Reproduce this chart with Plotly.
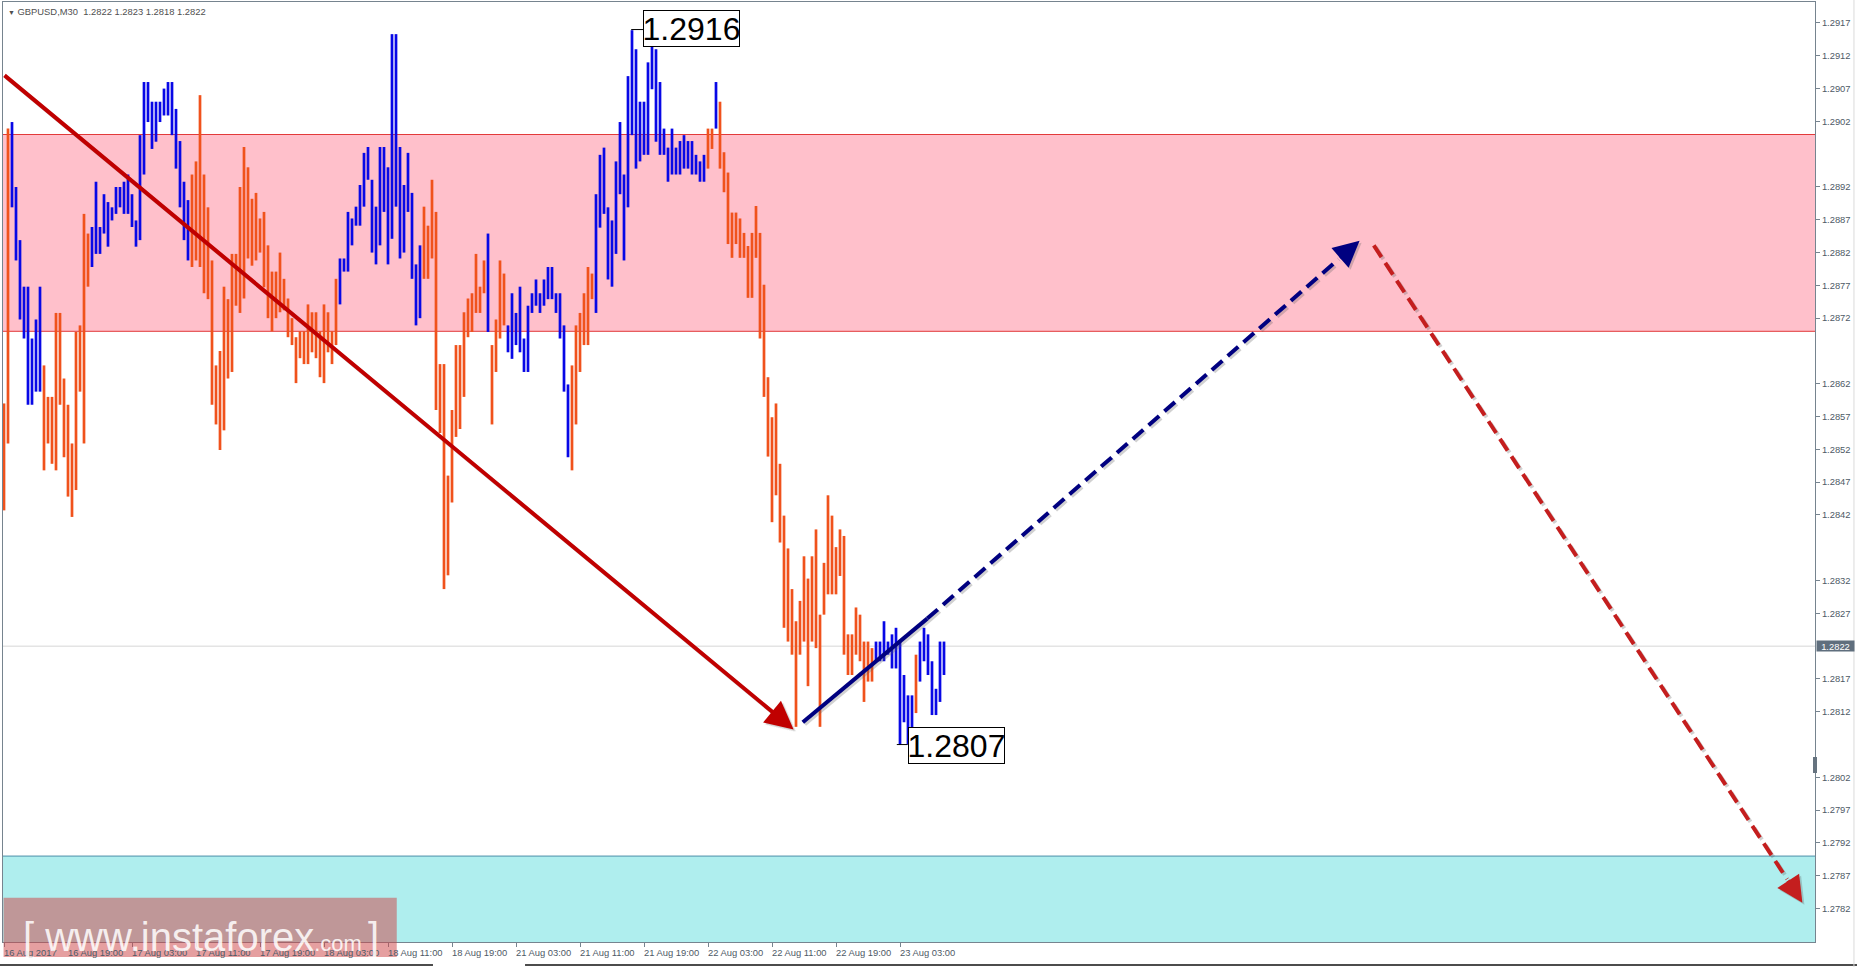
import plotly.graph_objects as go

# ---------------- data ----------------
tick_bars = [0, 16, 32, 48, 64, 80, 96, 112, 128, 144, 160, 176, 192, 208, 224]
tick_labels = ["16 Aug 2017", "16 Aug 19:00", "17 Aug 03:00", "17 Aug 11:00", "17 Aug 19:00",
               "18 Aug 03:00", "18 Aug 11:00", "18 Aug 19:00", "21 Aug 03:00", "21 Aug 11:00",
               "21 Aug 19:00", "22 Aug 03:00", "22 Aug 11:00", "22 Aug 19:00", "23 Aug 03:00"]

price_ticks = [1.2917, 1.2912, 1.2907, 1.2902, 1.2892, 1.2887, 1.2882, 1.2877, 1.2872,
               1.2862, 1.2857, 1.2852, 1.2847, 1.2842, 1.2832, 1.2827, 1.2817, 1.2812,
               1.2802, 1.2797, 1.2792, 1.2787, 1.2782]

bar_high = [
    1.28590, 1.29009, 1.29019, 1.28920, 1.28839, 1.28768, 1.28768, 1.28689, 1.28718, 1.28768,
    1.28648, 1.28600, 1.28600, 1.28728, 1.28728, 1.28628, 1.28588, 1.28529, 1.28699, 1.28709,
    1.28879, 1.28849, 1.28859, 1.28928, 1.28859, 1.28909, 1.28897, 1.28889, 1.28920, 1.28920,
    1.28928, 1.28939, 1.28909, 1.28869, 1.28999, 1.29080, 1.29080, 1.29050, 1.29050, 1.29050,
    1.29070, 1.29080, 1.29080, 1.29039, 1.28990, 1.28928, 1.28900, 1.28939, 1.28959, 1.29060,
    1.28939, 1.28889, 1.28808, 1.28648, 1.28670, 1.28768, 1.28749, 1.28818, 1.28818, 1.28920,
    1.28981, 1.28950, 1.28902, 1.28911, 1.28872, 1.28882, 1.28831, 1.28791, 1.28791, 1.28820,
    1.28780, 1.28750, 1.28720, 1.28691, 1.28700, 1.28700, 1.28741, 1.28729, 1.28729, 1.28700,
    1.28741, 1.28729, 1.28700, 1.28780, 1.28811, 1.28811, 1.28882, 1.28872, 1.28890, 1.28923,
    1.28972, 1.28981, 1.28931, 1.28890, 1.28981, 1.28981, 1.28950, 1.29153, 1.29153, 1.28981,
    1.28923, 1.28972, 1.28911, 1.28802, 1.28831, 1.28890, 1.28861, 1.28931, 1.28882, 1.28650,
    1.28650, 1.28480, 1.28580, 1.28679, 1.28679, 1.28729, 1.28750, 1.28758, 1.28818, 1.28768,
    1.28808, 1.28849, 1.28679, 1.28718, 1.28808, 1.28788, 1.28709, 1.28758, 1.28728, 1.28768,
    1.28689, 1.28739, 1.28758, 1.28779, 1.28758, 1.28779, 1.28798, 1.28798, 1.28758, 1.28758,
    1.28709, 1.28619, 1.28648, 1.28709, 1.28728, 1.28758, 1.28798, 1.28788, 1.28909, 1.28969,
    1.28980, 1.28889, 1.28869, 1.28959, 1.29019, 1.28939, 1.29089, 1.29159, 1.29130, 1.29050,
    1.29050, 1.29110, 1.29140, 1.29130, 1.29080, 1.29009, 1.28980, 1.29009, 1.28980, 1.28990,
    1.28999, 1.28990, 1.28990, 1.28969, 1.28959, 1.28969, 1.29009, 1.29009, 1.29080, 1.29050,
    1.28973, 1.28942, 1.28881, 1.28881, 1.28872, 1.28850, 1.28830, 1.28850, 1.28891, 1.28850,
    1.28771, 1.28630, 1.28569, 1.28590, 1.28498, 1.28419, 1.28369, 1.28307, 1.28258, 1.28289,
    1.28357, 1.28323, 1.28357, 1.28398, 1.28268, 1.28347, 1.28450, 1.28419, 1.28371, 1.28398,
    1.28388, 1.28238, 1.28238, 1.28279, 1.28268, 1.28227, 1.28227, 1.28217, 1.28227, 1.28227,
    1.28258, 1.28227, 1.28238, 1.28248, 1.28227, 1.28176, 1.28145, 1.28145, 1.28207, 1.28227,
    1.28248, 1.28238, 1.28197, 1.28155, 1.28227, 1.28227,
]

bar_low = [
    1.28427, 1.28529, 1.28889, 1.28808, 1.28718, 1.28689, 1.28588, 1.28588, 1.28608, 1.28608,
    1.28488, 1.28529, 1.28498, 1.28488, 1.28588, 1.28508, 1.28448, 1.28417, 1.28458, 1.28608,
    1.28529, 1.28768, 1.28798, 1.28818, 1.28818, 1.28849, 1.28829, 1.28869, 1.28879, 1.28889,
    1.28879, 1.28879, 1.28859, 1.28829, 1.28839, 1.28939, 1.29019, 1.28978, 1.28989, 1.29019,
    1.29029, 1.29029, 1.28999, 1.28948, 1.28889, 1.28839, 1.28808, 1.28798, 1.28808, 1.28798,
    1.28758, 1.28749, 1.28588, 1.28558, 1.28519, 1.28549, 1.28628, 1.28638, 1.28739, 1.28728,
    1.28750, 1.28811, 1.28800, 1.28808, 1.28820, 1.28767, 1.28720, 1.28700, 1.28720, 1.28729,
    1.28732, 1.28691, 1.28679, 1.28621, 1.28659, 1.28650, 1.28650, 1.28668, 1.28659, 1.28630,
    1.28621, 1.28668, 1.28650, 1.28679, 1.28741, 1.28791, 1.28791, 1.28831, 1.28861, 1.28861,
    1.28890, 1.28931, 1.28820, 1.28802, 1.28831, 1.28882, 1.28802, 1.28841, 1.28890, 1.28811,
    1.28820, 1.28882, 1.28780, 1.28709, 1.28720, 1.28780, 1.28780, 1.28811, 1.28580, 1.28545,
    1.28307, 1.28328, 1.28439, 1.28539, 1.28551, 1.28600, 1.28691, 1.28699, 1.28728, 1.28728,
    1.28758, 1.28699, 1.28558, 1.28638, 1.28689, 1.28709, 1.28668, 1.28658, 1.28679, 1.28668,
    1.28638, 1.28638, 1.28728, 1.28739, 1.28728, 1.28739, 1.28749, 1.28749, 1.28728, 1.28689,
    1.28608, 1.28508, 1.28488, 1.28558, 1.28638, 1.28679, 1.28679, 1.28749, 1.28728, 1.28858,
    1.28879, 1.28779, 1.28768, 1.28818, 1.28909, 1.28808, 1.28889, 1.28999, 1.28948, 1.28959,
    1.28969, 1.28969, 1.29069, 1.28989, 1.28969, 1.28969, 1.28928, 1.28939, 1.28939, 1.28939,
    1.28948, 1.28948, 1.28939, 1.28939, 1.28928, 1.28928, 1.28948, 1.28978, 1.29009, 1.28948,
    1.28912, 1.28833, 1.28812, 1.28833, 1.28812, 1.28812, 1.28751, 1.28751, 1.28812, 1.28689,
    1.28600, 1.28509, 1.28409, 1.28450, 1.28378, 1.28248, 1.28227, 1.28207, 1.28097, 1.28207,
    1.28227, 1.28159, 1.28227, 1.28217, 1.28097, 1.28268, 1.28299, 1.28299, 1.28299, 1.28327,
    1.28207, 1.28176, 1.28176, 1.28207, 1.28197, 1.28135, 1.28166, 1.28166, 1.28197, 1.28197,
    1.28197, 1.28207, 1.28186, 1.28186, 1.28070, 1.28104, 1.28070, 1.28080, 1.28118, 1.28166,
    1.28197, 1.28176, 1.28115, 1.28115, 1.28135, 1.28176,
]

# wave legs: (first bar, last bar, direction)
wave_segments = [(0, 1, "down"), (2, 9, "up"), (10, 21, "down"), (22, 46, "up"),
                 (47, 83, "down"), (84, 104, "up"), (105, 120, "down"), (121, 121, "up"),
                 (122, 125, "down"), (126, 141, "up"), (142, 147, "down"), (148, 175, "up"),
                 (176, 177, "down"), (178, 178, "up"), (179, 217, "down"), (218, 227, "up"),
                 (228, 228, "down"), (229, 235, "up")]

zone_resist = (1.2870, 1.2900)
zone_support_top = 1.2790
last_price = 1.2822
header = "GBPUSD,M30&nbsp;&nbsp;1.2822 1.2823 1.2818 1.2822"

# forecast / wave lines (bar index, price)
red_trend = [(-0.25, 1.29092), (197.4, 1.28093)]
navy_solid = [(199.7, 1.28104), (230.8, 1.28262)]
navy_dash = [(230.8, 1.28262), (338.9, 1.28838)]
red_dash = [(342.45, 1.28831), (449.6, 1.27829)]
label_high = (157, 1.2916)
label_low = (224, 1.2807)

# ---------------- figure ----------------
X_RANGE = [-0.25, 452.75]
Y_RANGE = [1.27769, 1.29202]
COL = {"down": "#F0521C", "up": "#0808E6"}
AXC = "#76848F"
TXT = "#4E5A66"
FONT = "Liberation Sans, Arial, sans-serif"

fig = go.Figure()
for side in ["down", "up"]:
    xs, ys = [], []
    for a, b, d in wave_segments:
        if d != side:
            continue
        for i in range(a, b + 1):
            xs += [i, i, None]
            ys += [bar_low[i], bar_high[i], None]
    fig.add_trace(go.Scatter(x=xs, y=ys, mode="lines", line=dict(color=COL[side], width=2.7),
                             hoverinfo="skip", showlegend=False))

shapes = []
shapes.append(dict(type="rect", xref="paper", yref="y", x0=0, x1=1, y0=zone_resist[0], y1=zone_resist[1],
                   fillcolor="#FFC0CB", line=dict(width=0), layer="below"))
for yv in zone_resist:
    shapes.append(dict(type="line", xref="paper", yref="y", x0=0, x1=1, y0=yv, y1=yv,
                       line=dict(color="#E23A3A", width=1), layer="below"))
shapes.append(dict(type="rect", xref="paper", yref="y", x0=0, x1=1, y0=Y_RANGE[0] - 0.001, y1=zone_support_top,
                   fillcolor="#AFEEEE", line=dict(width=0), layer="below"))
shapes.append(dict(type="line", xref="paper", yref="y", x0=0, x1=1, y0=zone_support_top, y1=zone_support_top,
                   line=dict(color="#4D8FA8", width=1), layer="below"))
shapes.append(dict(type="line", xref="paper", yref="y", x0=0, x1=1, y0=last_price, y1=last_price,
                   line=dict(color="#D6D6D6", width=1), layer="below"))

SH = "rgba(90,90,90,0.28)"
def seg(p, q, color, width, dash=None, dx=0.0, dy=0.0):
    ln = dict(color=color, width=width)
    if dash:
        ln["dash"] = dash
    return dict(type="line", xref="x", yref="y", x0=p[0] + dx, y0=p[1] + dy, x1=q[0] + dx, y1=q[1] + dy,
                line=ln, layer="above")

def back(tip, start, px):
    dxp = (tip[0] - start[0]) * 4.0
    dyp = (tip[1] - start[1]) * 65600.0
    L = (dxp ** 2 + dyp ** 2) ** 0.5
    return (tip[0] - dxp / L * px / 4.0, tip[1] - dyp / L * px / 65600.0)

nd_tail = back(navy_dash[1], navy_dash[0], 28)
rd_tail = back(red_dash[1], red_dash[0], 28)

shapes.append(seg(navy_solid[0], navy_solid[1], SH, 4, dx=0.5, dy=-0.00003))
shapes.append(seg(navy_dash[0], nd_tail, SH, 4, dash="14px,7px", dx=0.5, dy=-0.00003))
shapes.append(seg(red_dash[0], rd_tail, SH, 4, dash="14px,7px", dx=0.5, dy=-0.00003))
shapes.append(seg(navy_solid[0], navy_solid[1], "#000080", 4))
shapes.append(seg(navy_dash[0], nd_tail, "#000080", 4, dash="14px,7px"))
shapes.append(seg(red_dash[0], rd_tail, "#C41E1E", 4, dash="14px,7px"))

shapes.append(seg((label_high[0] - 0.2, label_high[1]), (159.75, label_high[1]), "#000000", 1))
shapes.append(seg((label_low[0] - 0.8, label_low[1]), (225.9, label_low[1]), "#000000", 1))

shapes.append(dict(type="rect", xref="paper", yref="paper", x0=0.0003, x1=0.2173, y0=-0.016, y1=0.0471,
                   fillcolor="rgba(206,70,72,0.52)", line=dict(width=0), layer="above"))
shapes.append(dict(type="rect", xref="paper", yref="paper", x0=0.9989, x1=1.0011, y0=0.1798, y1=0.1968,
                   fillcolor="#66737F", line=dict(width=0), layer="above"))
shapes.append(dict(type="line", xref="paper", yref="paper", x0=-0.002, x1=0.2373, y0=-0.0245, y1=-0.0245,
                   line=dict(color="#111111", width=1.5)))
shapes.append(dict(type="line", xref="paper", yref="paper", x0=0.2881, x1=1.03, y0=-0.0245, y1=-0.0245,
                   line=dict(color="#111111", width=1.5)))
shapes.append(dict(type="line", xref="paper", yref="paper", x0=1.0215, x1=1.0215, y0=-0.03, y1=1.01,
                   line=dict(color="#DADADA", width=1)))

annotations = []
def arrow(tip, tail, color, shadow=False, size=1.3):
    return dict(x=tip[0], y=tip[1], ax=tail[0], ay=tail[1], xref="x", yref="y", axref="x", ayref="y",
                text="", showarrow=True, arrowhead=2, arrowsize=size, arrowwidth=4,
                arrowcolor=color, xshift=2 if shadow else 0, yshift=-2 if shadow else 0)

annotations.append(arrow(red_trend[1], red_trend[0], SH, True, 1.4))
annotations.append(arrow(red_trend[1], red_trend[0], "#C00000", size=1.4))
annotations.append(arrow(navy_dash[1], nd_tail, SH, True))
annotations.append(arrow(navy_dash[1], nd_tail, "#000080"))
annotations.append(arrow(red_dash[1], rd_tail, SH, True))
annotations.append(arrow(red_dash[1], rd_tail, "#C41E1E"))

for (bi, pv), xl, yl in [(label_high, 159.75, 1.29161), (label_low, 225.9, 1.28068)]:
    annotations.append(dict(x=xl, y=yl, xref="x", yref="y", xanchor="left", yanchor="middle",
                            text=f"{pv:.4f}", showarrow=False, bgcolor="white",
                            bordercolor="black", borderwidth=1, borderpad=0, width=95, height=35,
                            font=dict(family=FONT, size=32, color="black")))

for tb, tl in zip(tick_bars, tick_labels):
    annotations.append(dict(x=tb, y=0, xref="x", yref="paper", xanchor="left", yanchor="top",
                            xshift=-2, yshift=-3, text=tl, showarrow=False,
                            font=dict(family=FONT, size=9.4, color=TXT)))
annotations.append(dict(x=1, y=last_price, xref="paper", yref="y", xanchor="left", yanchor="middle",
                        xshift=1, text=f"{last_price:.4f}", showarrow=False, bgcolor="#5F6E7D",
                        borderpad=0, width=37, height=10, font=dict(family=FONT, size=9.4, color="white")))
annotations.append(dict(x=0, y=1, xref="paper", yref="paper", xanchor="left", yanchor="top",
                        xshift=3, yshift=-2, showarrow=False,
                        text="<span style='font-size:7px'>▼</span> " + header,
                        font=dict(family=FONT, size=9.4, color="#505050")))
annotations.append(dict(x=0.0105, y=-0.019, xref="paper", yref="paper", xanchor="left", yanchor="bottom",
                        showarrow=False, borderpad=0,
                        text="[ www.instaforex<span style='font-size:22px'>.com </span>]",
                        font=dict(family=FONT, size=40, color="rgba(255,255,255,0.85)")))

fig.update_layout(
    width=1857, height=967,
    margin=dict(l=3, r=42, t=2, b=25, pad=0, autoexpand=False),
    paper_bgcolor="white", plot_bgcolor="white",
    showlegend=False,
    shapes=shapes, annotations=annotations,
    xaxis=dict(range=X_RANGE, showgrid=False, zeroline=False, showline=True, linecolor=AXC, linewidth=1,
               mirror=True, ticks="outside", ticklen=4, tickcolor=AXC, tickvals=tick_bars,
               showticklabels=False, fixedrange=True),
    yaxis=dict(range=Y_RANGE, side="right", showgrid=False, zeroline=False, showline=True, linecolor=AXC,
               linewidth=1, mirror=True, ticks="outside", ticklen=4, tickcolor=AXC,
               tickvals=price_ticks, ticktext=[f"{v:.4f}" for v in price_ticks],
               tickfont=dict(family=FONT, size=9.4, color=TXT), fixedrange=True),
)

fig.write_html("out.html", config={"displayModeBar": False},
               post_script="document.body.style.margin='0';document.body.style.overflow='hidden';")
